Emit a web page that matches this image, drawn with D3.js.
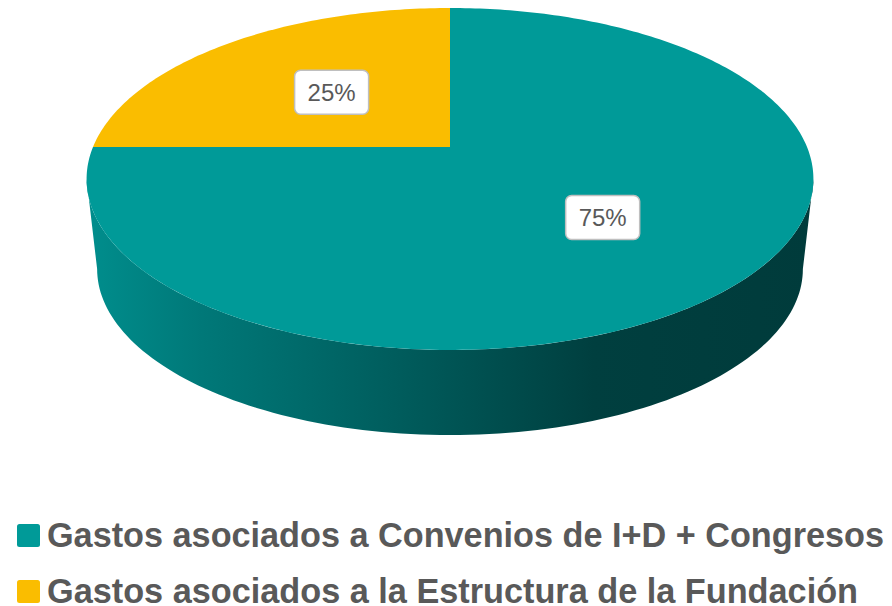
<!DOCTYPE html>
<html>
<head>
<meta charset="utf-8">
<script src="https://cdnjs.cloudflare.com/ajax/libs/d3/7.8.5/d3.min.js"></script>
<style>
  html, body { margin: 0; padding: 0; background: #fff; }
  svg { display: block; }
</style>
</head>
<body>
<svg id="chart" width="892" height="606"></svg>
<script>
// données du graphique
const categories = ['Gastos asociados a Convenios de I+D + Congresos', 'Gastos asociados a la Estructura de la Fundación'];
const values     = [75, 25];
const colors     = ['#009a98', '#fabd00'];

const W = 892, H = 606;
const svg = d3.select('#chart');

// projection perspective du disque (haut / bas)
const K = 0.187;
const TOP = { cx: 450, cy: 147, a: 357, b: 165 };
const BOT = { cx: 450, cy: 238, a: 357 * 0.971, b: 165 * 0.971 };
function proj(P, ang, r) {
  const x = r * Math.sin(ang), z = r * Math.cos(ang);
  const w = 1 + K * z;
  return [P.cx + P.a * x / w, P.cy - P.b * z / w];
}
function arcPts(P, a0, a1, n) {
  return d3.range(n + 1).map(i => proj(P, a0 + (a1 - a0) * i / n, 1));
}

const pie = d3.pie().sort(null).value(d => d);
const arcs = pie(values);
const total = d3.sum(values);
const line = d3.line();

// paroi avant (dégradé)
const defs = svg.append('defs');
const grad = defs.append('linearGradient').attr('id', 'wallGrad')
  .attr('gradientUnits', 'userSpaceOnUse')
  .attr('x1', 86).attr('x2', 812).attr('y1', 0).attr('y2', 0);
[[0, '#008e8d'], [0.16, '#007878'], [0.3, '#006a6a'], [0.49, '#005656'], [0.7, '#003f3f'], [1, '#003b3b']]
  .forEach(([o, c]) => grad.append('stop').attr('offset', o).attr('stop-color', c));

const aR = Math.PI - Math.acos(K);       // extrême droit
const aL = Math.PI + Math.acos(K);       // extrême gauche
const wallTop = arcPts(TOP, aR, aL, 120);
const wallBot = arcPts(BOT, aL, aR, 120);
svg.append('path')
  .attr('d', line(wallTop.concat(wallBot)) + 'Z')
  .attr('fill', 'url(#wallGrad)');

// face supérieure
svg.append('g').selectAll('path')
  .data(arcs)
  .enter().append('path')
  .attr('d', d => {
    const n = Math.max(8, Math.round((d.endAngle - d.startAngle) * 60));
    return line([[TOP.cx, TOP.cy]].concat(arcPts(TOP, d.startAngle, d.endAngle, n))) + 'Z';
  })
  .attr('fill', (d, i) => colors[i]);

// étiquettes
const labelR = [0.56, 0.5];
const lab = svg.append('g').selectAll('g')
  .data(arcs)
  .enter().append('g')
  .attr('transform', (d, i) => {
    const [x, y] = proj(TOP, (d.startAngle + d.endAngle) / 2, labelR[i]);
    return `translate(${x},${y})`;
  });
lab.append('rect')
  .attr('x', -37).attr('y', -22).attr('width', 74).attr('height', 44)
  .attr('rx', 6).attr('ry', 6)
  .attr('fill', '#fff').attr('stroke', '#bfbfbf').attr('stroke-width', 1.5);
lab.append('text')
  .attr('text-anchor', 'middle').attr('dy', '0.36em')
  .attr('font-family', 'Liberation Sans, Arial, sans-serif')
  .attr('font-size', 24).attr('fill', '#595959')
  .text(d => Math.round(d.data / total * 100) + '%');

// légende
const legWidths = [837, 811];
const leg = svg.append('g').selectAll('g')
  .data(categories)
  .enter().append('g')
  .attr('transform', (d, i) => `translate(17,${524 + i * 56})`);
leg.append('rect')
  .attr('width', 23).attr('height', 23).attr('rx', 2.5)
  .attr('fill', (d, i) => colors[i]);
leg.append('text')
  .attr('x', 30).attr('y', 23)
  .attr('font-family', 'Liberation Sans, Arial, sans-serif')
  .attr('font-weight', 'bold').attr('font-size', 34.5).attr('fill', '#595959')
  .attr('textLength', (d, i) => legWidths[i]).attr('lengthAdjust', 'spacingAndGlyphs')
  .text(d => d);
</script>
</body>
</html>
